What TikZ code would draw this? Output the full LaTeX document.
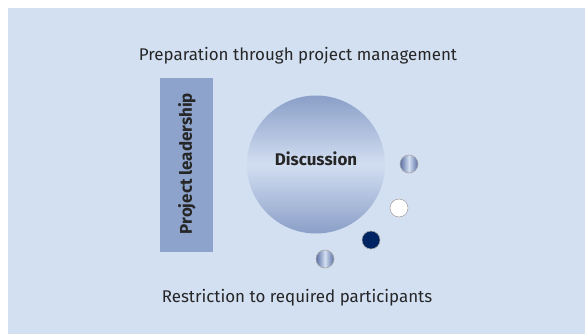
\documentclass[tikz,border=0pt]{standalone}
\usepackage{fontspec}
\setmainfont{Fira Sans}
\definecolor{bgblue}{HTML}{D3E0F2}
\definecolor{rectblue}{HTML}{8DA3CB}
\definecolor{navy}{HTML}{002361}
\definecolor{midblue}{HTML}{8A9FC8}
\definecolor{darkblue}{HTML}{5A6FA3}
\definecolor{lightblue}{HTML}{D2DEF1}
\tikzset{
  lbl/.style={font=\fontsize{17}{20}\selectfont, text=black!85},
  bold/.style={font=\fontsize{17}{20}\selectfont\bfseries, text=black!85},
  dot/.style={circle, minimum size=18bp, inner sep=0pt, draw=gray!70, line width=0.6pt},
  gdot/.style={dot, left color=darkblue, right color=darkblue, middle color=lightblue},
}
\begin{document}
\begin{tikzpicture}[x=1bp,y=1bp]
\useasboundingbox (0,0) rectangle (585,334);
\fill[bgblue] (8,0) rectangle (585,326);
\node[lbl] (top) at (298,278) {Preparation through project management};
\node[lbl] (bot) at (297,36) {Restriction to required participants};
\node[fill=rectblue, minimum width=53bp, minimum height=174bp, inner sep=0pt] (lead) at (186.5,169) {};
\node[bold, rotate=90] (leadt) at (187,170.5) {Project leadership};
\shade[top color=midblue, bottom color=midblue, middle color=lightblue] (316,169.5) circle (69);
\node[bold] (disc) at (316,175) {Discussion};
\node[gdot] (d1) at (409,170) {};
\node[dot, fill=white] (d2) at (399,126) {};
\node[dot, fill=navy] (d3) at (371,94) {};
\node[gdot] (d4) at (325,75) {};
\end{tikzpicture}
\end{document}
